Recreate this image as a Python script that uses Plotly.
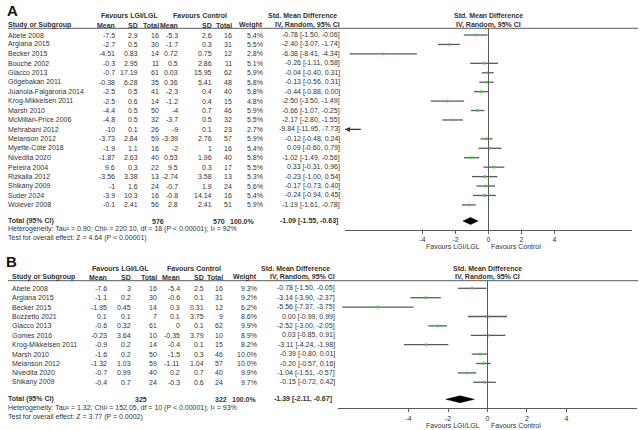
import plotly.graph_objects as go

W, H = 639, 430
FONT = "Liberation Sans, Arial, sans-serif"
TXT = "#333333"
LINE = "#5a5a5a"
GREEN = "#44c844"

# ---------------- Panel A data ----------------
studies_A = ["Abete 2008", "Argiana 2015", "Becker 2015", "Bouché 2002", "Giacco 2013",
             "Gögebakan 2011", "Juanola-Falgarona 2014", "Krog-Mikkelsen 2011", "Marsh 2010",
             "McMillan-Price 2006", "Mehrabani 2012", "Melanson 2012", "Myette-Côté 2018",
             "Nivedita 2020", "Pereira 2004", "Rizkalla 2012", "Shikany 2009", "Suder 2024",
             "Wolever 2008"]
mean_e_A = [-7.5, -2.7, -4.51, -0.3, -0.7, -0.38, -2.5, -2.5, -4.4, -4.8, -10, -3.73, -1.9, -1.87, 9.6, -3.56, -1, -3.9, -0.1]
sd_e_A = [2.9, 0.5, 0.83, 2.95, 17.19, 6.28, 0.5, 0.6, 0.5, 0.5, 0.1, 2.84, 1.1, 2.63, 0.3, 3.38, 1.6, 10.3, 2.41]
n_e_A = [16, 30, 14, 11, 61, 35, 41, 14, 50, 32, 26, 59, 16, 40, 22, 13, 24, 16, 56]
mean_c_A = [-5.3, -1.7, 0.72, 0.5, 0.03, 0.36, -2.3, -1.2, -4, -3.7, -9, -3.39, -2, 0.53, 9.5, -2.74, -0.7, -0.8, 2.8]
sd_c_A = [2.6, 0.3, 0.75, 2.86, 15.95, 5.41, 0.4, 0.4, 0.7, 0.5, 0.1, 2.76, 1, 1.96, 0.3, 3.58, 1.9, 14.14, 2.41]
n_c_A = [16, 31, 12, 11, 62, 48, 40, 15, 46, 32, 23, 57, 16, 40, 17, 13, 24, 16, 51]
weight_A = [5.4, 5.5, 2.8, 5.1, 5.9, 5.8, 5.8, 4.8, 5.9, 5.5, 2.7, 5.9, 5.4, 5.8, 5.5, 5.3, 5.6, 5.4, 5.9]
smd_A = [-0.78, -2.40, -6.38, -0.26, -0.04, -0.13, -0.44, -2.50, -0.66, -2.17, -9.84, -0.12, 0.09, -1.02, 0.33, -0.23, -0.17, -0.24, -1.19]
lo_A = [-1.50, -3.07, -8.41, -1.11, -0.40, -0.56, -0.88, -3.50, -1.07, -2.80, -11.95, -0.48, -0.60, -1.49, -0.31, -1.00, -0.73, -0.94, -1.61]
hi_A = [-0.06, -1.74, -4.34, 0.58, 0.31, 0.31, 0.00, -1.49, -0.25, -1.55, -7.73, 0.24, 0.79, -0.56, 0.96, 0.54, 0.40, 0.45, -0.78]
total_A = {"n_e": 576, "n_c": 570, "smd": -1.09, "lo": -1.55, "hi": -0.63}
het_A = "Heterogeneity: Tau² = 0.90; Chi² = 220.10, df = 18 (P < 0.00001); I² = 92%"
test_A = "Test for overall effect: Z = 4.64 (P < 0.00001)"

# ---------------- Panel B data ----------------
studies_B = ["Abete 2008", "Argiana 2015", "Becker 2015", "Bozzetto 2021", "Giacco 2013",
             "Gomes 2016", "Krog-Mikkelsen 2011", "Marsh 2010", "Melanson 2012",
             "Nivedita 2020", "Shikany 2009"]
mean_e_B = [-7.6, -1.1, -1.95, 0.1, -0.6, -0.23, -0.9, -1.6, -1.32, -0.7, -0.4]
sd_e_B = [3, 0.2, 0.45, 0.1, 0.32, 3.64, 0.2, 0.2, 1.03, 0.99, 0.7]
n_e_B = [16, 30, 14, 7, 61, 10, 14, 50, 59, 40, 24]
mean_c_B = [-5.4, -0.6, 0.3, 0.1, 0, -0.35, -0.4, -1.5, -1.11, 0.2, -0.3]
sd_c_B = [2.5, 0.1, 0.31, 3.75, 0.1, 3.79, 0.1, 0.3, 1.04, 0.7, 0.6]
n_c_B = [16, 31, 12, 9, 62, 10, 15, 46, 57, 40, 24]
weight_B = [9.3, 9.2, 6.2, 8.6, 9.9, 8.9, 8.2, 10.0, 10.0, 9.9, 9.7]
smd_B = [-0.78, -3.14, -5.56, 0.00, -2.52, 0.03, -3.11, -0.39, -0.20, -1.04, -0.15]
lo_B = [-1.50, -3.90, -7.37, -0.99, -3.00, -0.85, -4.24, -0.80, -0.57, -1.51, -0.72]
hi_B = [-0.05, -2.37, -3.75, 0.99, -2.05, 0.91, -1.98, 0.01, 0.16, -0.57, 0.42]
total_B = {"n_e": 325, "n_c": 322, "smd": -1.39, "lo": -2.11, "hi": -0.67}
het_B = "Heterogeneity: Tau² = 1.32; Chi² = 152.05, df = 10 (P < 0.00001); I² = 93%"
test_B = "Test for overall effect: Z = 3.77 (P = 0.0002)"

tick_vals = [-4, -2, 0, 2, 4]
tick_text = ["-4", "-2", "0", "2", "4"]

DATA_A = dict(studies=studies_A, me=mean_e_A, se=sd_e_A, ne=n_e_A, mc=mean_c_A, sc=sd_c_A, nc=n_c_A,
              w=weight_A, smd=smd_A, lo=lo_A, hi=hi_A, tot=total_A, het=het_A, test=test_A)
DATA_B = dict(studies=studies_B, me=mean_e_B, se=sd_e_B, ne=n_e_B, mc=mean_c_B, sc=sd_c_B, nc=n_c_B,
              w=weight_B, smd=smd_B, lo=lo_B, hi=hi_B, tot=total_B, het=het_B, test=test_B)

# ---------------- geometry (pixels) ----------------
GEOM_A = dict(label="A", lab_x=7, lab_y=10, top=0, bottom=252, row0=35, dy=9.44,
              xd=(345, 632), xr=8.7, cols=[115, 138, 159, 178, 212, 232, 263, 340],
              study_x=8.3, left_x=8.3, grp=(129.5, 200, 302.5), pc=488.5,
              h1=15.7, h2=25, hline=28.3, axis=230, fav=246.7, fav_x=(452.5, 516.4),
              tcols=[164, 225, 255, 338], total=221, hetp=229.3, testp=238.3,
              xa="x", ya="y")
GEOM_B = dict(label="B", lab_x=6, lab_y=261, top=252, bottom=430, row0=288.3, dy=9.4,
              xd=(338, 637), xr=7.58, cols=[107, 131, 157, 180, 204, 223, 257, 335],
              study_x=11.7, left_x=8.3, grp=(121, 193.7, 295), pc=487.5,
              h1=268.3, h2=277.3, hline=280.7, axis=408.3, fav=425, fav_x=(453.3, 516),
              tcols=[147, 227, 257, 332], total=399.3, hetp=408.3, testp=417.3,
              xa="x2", ya="y2")


def fmt(v):
    return f"{v:g}"


fig = go.Figure()
annotations = []
shapes = []
layout_axes = {}


def ann(text, xpx, row, g, anchor="left", bold=False, size=7, color=TXT):
    annotations.append(dict(
        text=f"<b>{text}</b>" if bold else text,
        x=xpx / W, xref="paper", y=row, yref=g["ya"],
        xanchor=anchor, yanchor="middle", showarrow=False,
        borderpad=0, borderwidth=0,
        font=dict(family=FONT, size=size, color=color)))


for g, d in ((GEOM_A, DATA_A), (GEOM_B, DATA_B)):
    r = lambda px, g=g: (px - g["row0"]) / g["dy"]
    xmin, xmax = -g["xr"], g["xr"]
    axn = g["xa"].replace("x", "xaxis")
    ayn = g["ya"].replace("y", "yaxis")

    layout_axes[ayn] = dict(domain=[1 - g["bottom"] / H, 1 - g["top"] / H],
                            range=[r(g["bottom"]), r(g["top"])], visible=False,
                            fixedrange=True)
    layout_axes[axn] = dict(domain=[g["xd"][0] / W, g["xd"][1] / W], range=[xmin, xmax],
                            anchor="free", position=1 - g["axis"] / H,
                            showgrid=False, zeroline=False, showline=True,
                            linecolor=LINE, linewidth=1, ticks="outside", ticklen=3,
                            tickcolor=LINE, tickwidth=1, tickvals=tick_vals,
                            ticktext=tick_text, tickfont=dict(family=FONT, size=7, color=TXT),
                            fixedrange=True)

    # panel label
    annotations.append(dict(text=f"<b>{g['label']}</b>", x=g["lab_x"] / W, xref="paper",
                            y=1 - g["lab_y"] / H, yref="paper", xanchor="left",
                            yanchor="middle", showarrow=False, borderpad=0, borderwidth=0,
                            font=dict(family=FONT, size=15, color="#111")))

    # headers
    ann("Favours LGI/LGL", g["grp"][0], r(g["h1"]), g, "center", True)
    ann("Favours Control", g["grp"][1], r(g["h1"]), g, "center", True)
    ann("Std. Mean Difference", g["grp"][2], r(g["h1"]), g, "center", True)
    ann("Std. Mean Difference", g["pc"], r(g["h1"]), g, "center", True)
    ann("Study or Subgroup", g["study_x"], r(g["h2"]), g, "left", True)
    for txt, cx in zip(["Mean", "SD", "Total", "Mean", "SD", "Total", "Weight",
                        "IV, Random, 95% CI"], g["cols"]):
        ann(txt, cx, r(g["h2"]), g, "right", True)
    ann("IV, Random, 95% CI", g["pc"], r(g["h2"]), g, "center", True)

    shapes.append(dict(type="line", xref="paper", yref="paper", x0=8 / W, x1=638 / W,
                       y0=1 - g["hline"] / H, y1=1 - g["hline"] / H,
                       line=dict(color=LINE, width=1)))
    # zero line
    shapes.append(dict(type="line", xref=g["xa"], yref=g["ya"], x0=0, x1=0,
                       y0=r(g["hline"]), y1=r(g["axis"]), line=dict(color=LINE, width=1)))

    # rows
    lx, ly, mx, my = [], [], [], []
    for i, s in enumerate(d["studies"]):
        ann(s, g["study_x"], i, g, "left")
        vals = [fmt(d["me"][i]), fmt(d["se"][i]), str(d["ne"][i]), fmt(d["mc"][i]),
                fmt(d["sc"][i]), str(d["nc"][i]), f"{d['w'][i]:.1f}%",
                f"{d['smd'][i]:.2f} [{d['lo'][i]:.2f}, {d['hi'][i]:.2f}]"]
        for v, cx in zip(vals, g["cols"]):
            ann(v, cx, i, g, "right")
        lo, hi, sm = d["lo"][i], d["hi"][i], d["smd"][i]
        lcl, hcl = max(lo, xmin), min(hi, xmax)
        if lcl < hcl:
            lx += [lcl, hcl, None]
            ly += [i, i, None]
        if xmin <= sm <= xmax:
            mx.append(sm)
            my.append(i)
        if lo < xmin:
            annotations.append(dict(text="", x=xmin, y=i, xref=g["xa"], yref=g["ya"],
                                    ax=hcl, ay=i, axref=g["xa"], ayref=g["ya"],
                                    showarrow=True, arrowhead=2, arrowsize=1,
                                    arrowwidth=1, arrowcolor="#333"))
        if hi > xmax:
            annotations.append(dict(text="", x=xmax, y=i, xref=g["xa"], yref=g["ya"],
                                    ax=lcl, ay=i, axref=g["xa"], ayref=g["ya"],
                                    showarrow=True, arrowhead=2, arrowsize=1,
                                    arrowwidth=1, arrowcolor="#333"))

    fig.add_trace(go.Scatter(x=lx, y=ly, mode="lines", xaxis=g["xa"], yaxis=g["ya"],
                             line=dict(color=LINE, width=1.3), hoverinfo="skip",
                             showlegend=False))
    fig.add_trace(go.Scatter(x=mx, y=my, mode="markers", xaxis=g["xa"], yaxis=g["ya"],
                             marker=dict(symbol="square", size=2.5, color=GREEN, line=dict(width=0)),
                             showlegend=False))

    # total
    t = d["tot"]
    tr = r(g["total"])
    hh = 0.37
    fig.add_trace(go.Scatter(x=[t["lo"], t["smd"], t["hi"], t["smd"], t["lo"]],
                             y=[tr, tr - hh, tr, tr + hh, tr], mode="lines", fill="toself",
                             fillcolor="black", line=dict(color="black", width=0.5),
                             xaxis=g["xa"], yaxis=g["ya"], showlegend=False, hoverinfo="skip"))
    ann("Total (95% CI)", g["left_x"], tr, g, "left", True)
    tvals = [str(t["n_e"]), str(t["n_c"]), "100.0%",
             f"{t['smd']:.2f} [{t['lo']:.2f}, {t['hi']:.2f}]"]
    for v, cx in zip(tvals, g["tcols"]):
        ann(v, cx, tr, g, "right", True)
    ann(d["het"], g["left_x"], r(g["hetp"]), g, "left")
    ann(d["test"], g["left_x"], r(g["testp"]), g, "left")

    ann("Favours LGI/LGL", g["fav_x"][0], r(g["fav"]), g, "center")
    ann("Favours Control", g["fav_x"][1], r(g["fav"]), g, "center")

fig.update_layout(width=W, height=H, margin=dict(l=0, r=0, t=0, b=0),
                  paper_bgcolor="white", plot_bgcolor="white",
                  annotations=annotations, shapes=shapes, showlegend=False,
                  font=dict(family=FONT, size=7, color=TXT), **layout_axes)

fig.write_html("out.html")
